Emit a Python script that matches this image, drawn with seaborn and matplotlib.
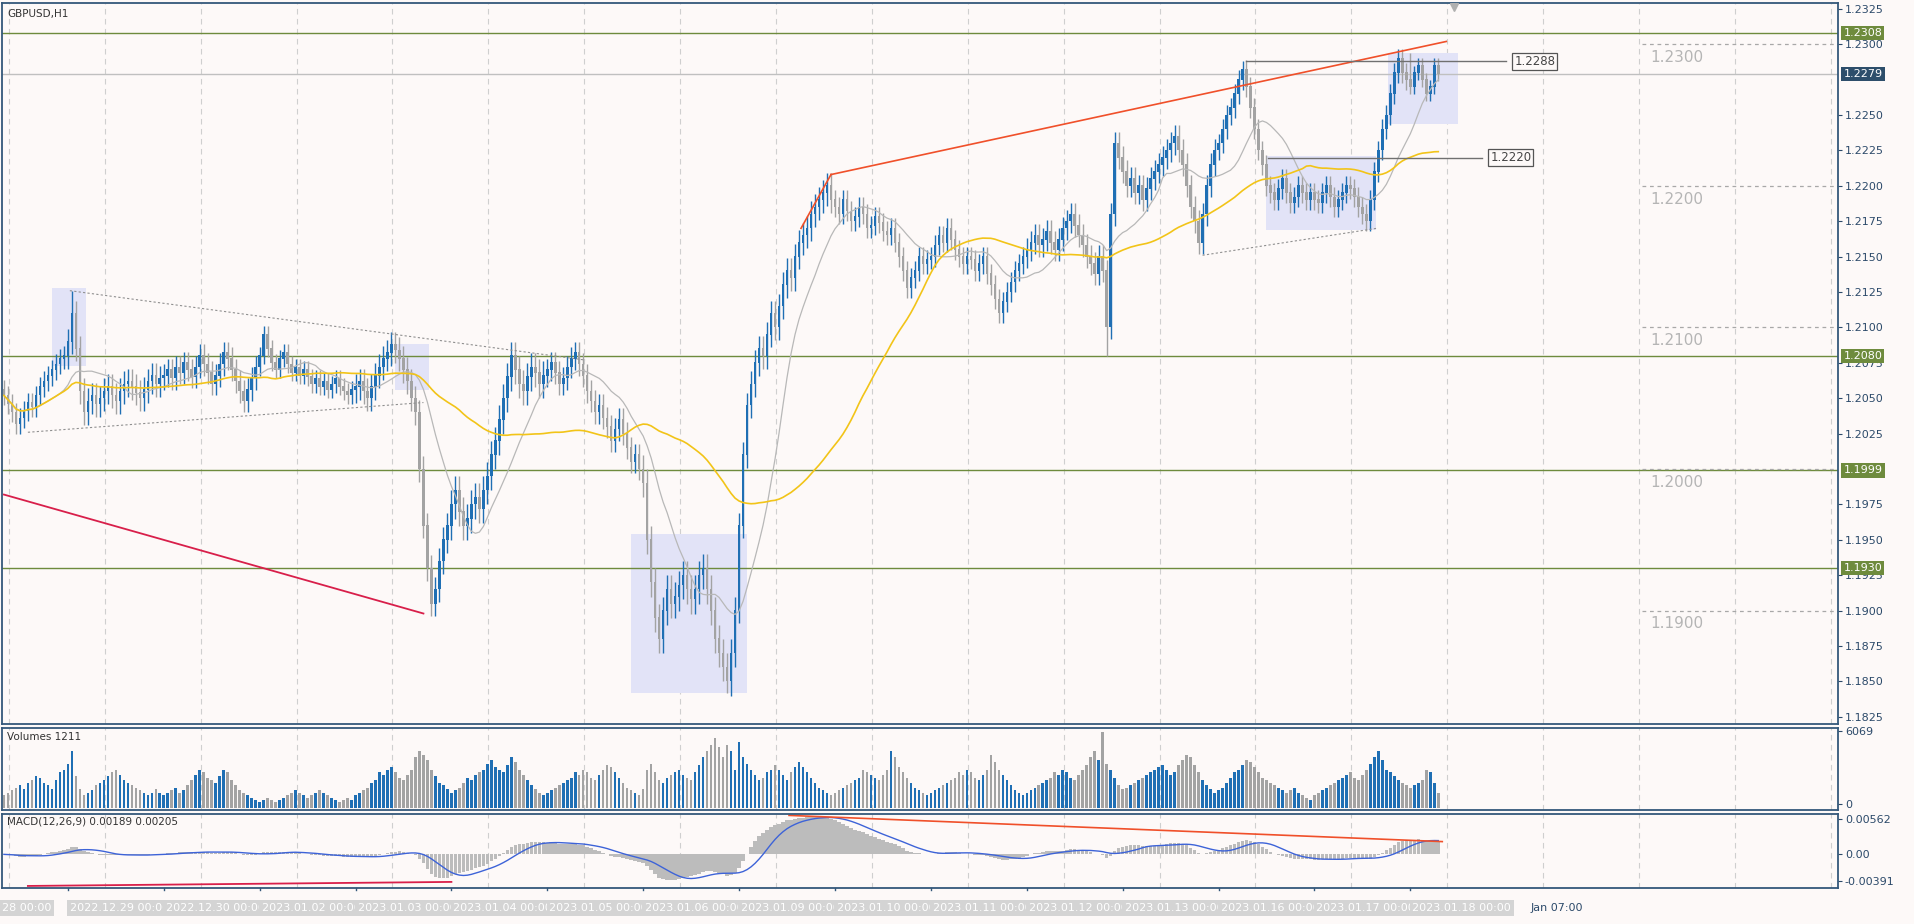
import numpy as np
import pandas as pd
import matplotlib
matplotlib.use("Agg")
import matplotlib.pyplot as plt
from matplotlib.patches import Rectangle
import seaborn as sns

# ---------------- DATA ----------------
# hourly closes (x 1e-4), one list per trading day
CLOSES = {
 "2022.12.28": [12052,12046,12040,12032,12036,12041,12047,12044,12052,12058,12062,12066,12070,12074,12078,12080],
 "2022.12.29": [12090,12110,12085,12055,12040,12048,12052,12046,12050,12055,12058,12052,12048,12055,12060,12062,12058,12054,12050,12056,12062,12066,12060,12064],
 "2022.12.30": [12066,12070,12064,12072,12068,12075,12070,12065,12072,12080,12074,12068,12060,12066,12074,12082,12078,12070,12062,12055,12048,12056,12064,12072],
 "2023.01.02": [12080,12095,12085,12075,12070,12078,12082,12074,12068,12072,12066,12070,12065,12060,12064,12058,12062,12056,12060,12064,12058,12055,12052,12056],
 "2023.01.03": [12058,12062,12055,12050,12058,12066,12072,12078,12082,12088,12084,12078,12070,12062,12050,12040,12000,11960,11930,11905,11915,11935,11950,11960],
 "2023.01.04": [11975,11985,11970,11960,11965,11975,11980,11972,11985,11995,12010,12020,12035,12050,12065,12080,12070,12060,12055,12065,12072,12068,12060,12066],
 "2023.01.05": [12070,12075,12068,12060,12064,12072,12078,12082,12074,12066,12055,12048,12040,12045,12036,12030,12020,12028,12035,12025,12015,12005,12010,12000],
 "2023.01.06": [11990,11950,11920,11895,11880,11900,11915,11905,11910,11918,11925,11915,11908,11915,11925,11930,11915,11900,11880,11870,11860,11850,11870,11900],
 "2023.01.09": [11960,12010,12045,12060,12075,12085,12080,12095,12110,12100,12115,12130,12140,12135,12150,12160,12165,12170,12180,12185,12190,12195,12200,12190],
 "2023.01.10": [12185,12180,12190,12182,12175,12178,12185,12180,12170,12172,12178,12174,12168,12165,12170,12160,12150,12140,12128,12135,12140,12150,12145,12148],
 "2023.01.11": [12150,12158,12165,12160,12170,12162,12155,12150,12145,12150,12148,12140,12145,12150,12138,12130,12120,12110,12118,12125,12132,12140,12145,12150],
 "2023.01.12": [12155,12160,12165,12158,12162,12168,12160,12155,12162,12170,12175,12180,12172,12165,12158,12150,12145,12138,12150,12140,12100,12180,12230,12220],
 "2023.01.13": [12210,12200,12205,12195,12200,12190,12198,12205,12210,12215,12220,12225,12230,12235,12225,12215,12200,12185,12175,12160,12180,12200,12215,12225],
 "2023.01.16": [12230,12240,12250,12255,12265,12275,12282,12270,12255,12240,12225,12215,12200,12195,12190,12198,12205,12195,12188,12192,12200,12195,12190,12195],
 "2023.01.17": [12190,12188,12195,12200,12192,12185,12190,12195,12200,12198,12192,12185,12180,12175,12190,12210,12225,12240,12250,12265,12280,12290,12280,12275],
 "2023.01.18": [12270,12280,12285,12275,12265,12270,12285,12279],
}
# typical wick length per day (x 1e-4)
WICKS = [7, 9, 8, 6, 9, 10, 8, 10, 9, 7, 7, 8, 8, 7, 7, 5]
# notable extreme wicks: bar index -> price
HIGH_OVERRIDES = {17: 1.2126, 352: 1.2294, 310: 1.2288}
LOW_OVERRIDES = {276: 1.2080, 181: 1.1842}

# hourly tick volume (x 100)
VOLUMES = {
 "2022.12.28": [10,12,14,16,18,15,20,22,25,24,20,18,15,22,28,30],
 "2022.12.29": [35,45,25,15,10,12,14,18,20,22,25,28,30,26,22,20,18,16,14,12,10,12,15,12],
 "2022.12.30": [10,12,14,16,12,14,18,22,26,30,28,24,22,20,25,30,28,22,18,14,12,10,8,6],
 "2023.01.02": [5,6,8,6,5,6,8,10,12,14,12,10,8,10,12,14,12,10,8,6,5,6,8,6],
 "2023.01.03": [10,12,14,16,20,22,28,26,30,32,28,24,22,26,30,40,45,42,38,30,25,20,18,15],
 "2023.01.04": [12,14,16,20,24,22,26,28,30,35,38,32,30,28,34,40,36,30,26,22,18,15,12,10],
 "2023.01.05": [12,14,16,18,20,22,24,28,26,30,28,24,22,26,30,34,32,28,24,20,16,14,12,10],
 "2023.01.06": [15,30,35,28,22,20,24,26,28,30,26,24,22,28,34,40,45,50,55,48,40,50,45,30],
 "2023.01.09": [52,40,35,30,26,22,24,28,30,34,30,26,22,28,32,36,32,28,24,20,16,14,12,10],
 "2023.01.10": [12,14,16,18,20,22,24,30,28,26,24,22,26,30,45,40,32,28,24,20,16,14,12,10],
 "2023.01.11": [12,14,16,18,20,22,24,28,26,30,28,24,22,26,30,42,36,30,26,22,18,14,12,10],
 "2023.01.12": [12,14,16,18,20,22,24,28,26,30,28,24,22,26,30,34,40,45,38,60,35,30,24,18],
 "2023.01.13": [15,16,18,20,22,24,26,28,30,32,34,30,26,28,34,38,42,40,34,28,22,18,15,12],
 "2023.01.16": [14,16,20,24,28,30,34,38,36,32,28,24,22,20,18,16,14,12,14,16,12,10,8,6],
 "2023.01.17": [10,12,14,16,18,20,22,24,26,28,24,22,26,30,35,40,45,38,30,28,25,22,20,18],
 "2023.01.18": [16,18,20,22,30,28,20,12.11],
}

PRICE_TICKS = [1.2325, 1.2300, 1.2250, 1.2225, 1.2200, 1.2175, 1.2150, 1.2125, 1.2100,
               1.2075, 1.2050, 1.2025, 1.1975, 1.1950, 1.1925, 1.1900, 1.1875, 1.1850, 1.1825]
GREEN_LEVELS = [1.2308, 1.2080, 1.1999, 1.1930]
LAST_PRICE = 1.2279
ROUND_LEVELS = [1.2300, 1.2200, 1.2100, 1.2000, 1.1900]
DAY_LABELS = ["2022.12.29 00:00", "2022.12.30 00:00", "2023.01.02 00:00", "2023.01.03 00:00",
              "2023.01.04 00:00", "2023.01.05 00:00", "2023.01.06 00:00", "2023.01.09 00:00",
              "2023.01.10 00:00", "2023.01.11 00:00", "2023.01.12 00:00", "2023.01.13 00:00",
              "2023.01.16 00:00", "2023.01.17 00:00", "2023.01.18 00:00"]
# boxes: (bar0, bar1, price_low, price_high)
BOXES = [(12, 20.5, 1.2073, 1.2128), (98, 106.5, 1.2056, 1.2088),
         (157, 186, 1.1842, 1.1954), (316, 343.5, 1.2169, 1.2221), (346.5, 364, 1.2244, 1.2294)]
# trend lines: (bar0, price0, bar1, price1)
RED_LINES = [(199.5, 1.2170, 207, 1.2208), (207, 1.2208, 361, 1.2302)]
CRIMSON_LINE = (0, 1.1982, 105, 1.1898)
DOTTED_LINES = [(16.5, 1.2126, 145.5, 1.2077), (6, 1.2026, 105, 1.2047), (300, 1.2151, 343.5, 1.2170)]
H_LEVELS = [(311, 378, 1.2288), (316.5, 372, 1.2220)]
MACD_RED = (196.5, 0.0058, 360, 0.0019)
MACD_CRIMSON = (6, -0.0047, 112, -0.0041)

# ---------------- BUILD ----------------
days = list(CLOSES.keys())
close = np.concatenate([np.array(CLOSES[d]) for d in days]) / 10000.0
vol = np.concatenate([np.array(VOLUMES[d]) for d in days]) * 100.0
wick = np.concatenate([[WICKS[i]] * len(CLOSES[d]) for i, d in enumerate(days)]) / 10000.0
n = len(close)
idx = np.arange(n)
open_ = np.r_[close[0] + 0.0004, close[:-1]]
high = np.maximum(open_, close) + wick
low = np.minimum(open_, close) - wick
for k, v in HIGH_OVERRIDES.items():
    high[k] = v
for k, v in LOW_OVERRIDES.items():
    low[k] = v
up = close >= open_
day_start = np.cumsum([0] + [len(CLOSES[d]) for d in days])[1:-1]

s = pd.Series(close)
ma_fast = s.rolling(14, min_periods=1).mean()
ma_slow = s.rolling(50, min_periods=1).mean()
macd = s.ewm(span=12, adjust=False).mean() - s.ewm(span=26, adjust=False).mean()
signal = macd.rolling(9, min_periods=1).mean()
df = pd.DataFrame({"bar": idx, "fast": ma_fast, "slow": ma_slow, "macd": macd, "signal": signal})

BG = "#fdf9f8"
UPC = "#1f6fb4"
DNC = "#a3a3a3"
SPINE = "#34587a"
TXT = "#2c4a6a"
GREEN = "#6e8b3d"

fig = plt.figure(figsize=(19.15, 9.24), dpi=100, facecolor=BG)
L, W = 0.001, 0.9587
ax = fig.add_axes([L, 0.2165, W, 0.780])
axv = fig.add_axes([L, 0.1234, W, 0.0887], sharex=ax)
axm = fig.add_axes([L, 0.039, W, 0.080], sharex=ax)
XMAX = 459
for a in (ax, axv, axm):
    a.set_facecolor(BG)
    for sp in a.spines.values():
        sp.set_color(SPINE); sp.set_linewidth(1.3)
    a.yaxis.tick_right()
    a.tick_params(axis="y", labelsize=8, colors=TXT, length=3, pad=2)
    a.tick_params(axis="x", length=0, labelbottom=False)
    for g in np.arange(1.25, XMAX, 24):
        a.axvline(g, color="#cfcfcf", lw=0.8, ls=(0, (5, 4)), zorder=0)
ax.set_xlim(-0.5, XMAX)

# ---- main panel
ax.set_ylim(1.1820, 1.2329)
for b in BOXES:
    ax.add_patch(Rectangle((b[0], b[2]), b[1] - b[0], b[3] - b[2], color="#e2e3f7", zorder=1, lw=0))
for lv in GREEN_LEVELS:
    ax.axhline(lv, color=GREEN, lw=1.0, zorder=2)
ax.axhline(LAST_PRICE, color="#c0c0c0", lw=1.0, zorder=2)
for lv in ROUND_LEVELS:
    ax.plot([410, XMAX], [lv, lv], color="#a8a8a8", lw=0.9, ls=(0, (3, 3)), zorder=2)
    ax.text(412, lv - 0.0004, f"{lv:.4f}", color="#b5b5b5", fontsize=11, va="top", ha="left")
colors = np.where(up, UPC, DNC)
ax.vlines(idx, low, high, colors=colors, lw=1.0, zorder=3)
ax.bar(idx, np.abs(close - open_) + 0.00004, bottom=np.minimum(open_, close), width=0.62,
       color=colors, zorder=4, lw=0)
sns.lineplot(data=df, x="bar", y="fast", ax=ax, color="#b8b8b8", lw=0.9, zorder=5)
sns.lineplot(data=df, x="bar", y="slow", ax=ax, color="#f2c418", lw=1.2, zorder=5)
for x0, y0, x1, y1 in RED_LINES:
    ax.plot([x0, x1], [y0, y1], color="#f0502a", lw=1.2, zorder=6)
ax.plot([CRIMSON_LINE[0], CRIMSON_LINE[2]], [CRIMSON_LINE[1], CRIMSON_LINE[3]], color="#d81f4a", lw=1.3, zorder=6)
for x0, y0, x1, y1 in DOTTED_LINES:
    ax.plot([x0, x1], [y0, y1], color="#909090", lw=0.8, ls=(0, (2, 2)), zorder=6)
for x0, x1, lv in H_LEVELS:
    ax.plot([x0, x1 - 2], [lv, lv], color="#707070", lw=1.0, zorder=6)
    ax.text(x1, lv, f"{lv:.4f}", fontsize=8.5, color="#444", va="center", ha="left",
            bbox=dict(boxstyle="square,pad=0.15", fc=BG, ec="#555", lw=0.9))
ax.plot([363], [1.23265], marker="v", color="#b0b0b0", ms=6, zorder=7)
ax.set_yticks(PRICE_TICKS)
ax.set_yticklabels([f"{t:.4f}" for t in PRICE_TICKS])
ax.set_ylabel(""); ax.set_xlabel("")
for lv in GREEN_LEVELS:
    ax.text(1.003, lv, f"{lv:.4f}", transform=ax.get_yaxis_transform(), fontsize=8, color="white",
            va="center", ha="left", bbox=dict(boxstyle="square,pad=0.2", fc=GREEN, ec="none"), zorder=10, clip_on=False)
ax.text(1.003, LAST_PRICE, f"{LAST_PRICE:.4f}", transform=ax.get_yaxis_transform(), fontsize=8, color="white",
        va="center", ha="left", bbox=dict(boxstyle="square,pad=0.2", fc="#2d4e6b", ec="none"), zorder=10, clip_on=False)
ax.text(0.003, 0.992, "GBPUSD,H1", transform=ax.transAxes, fontsize=7.5, color="#333", va="top")

# ---- volume panel
axv.set_ylim(-150, 6300)
axv.bar(idx, vol, width=0.62, color=colors, lw=0)
axv.set_yticks([300, 6069]); axv.set_yticklabels(["0", "6069"])
axv.text(0.003, 0.95, f"Volumes {int(round(vol[-1]))}", transform=axv.transAxes, fontsize=7.5, color="#333", va="top")

# ---- MACD panel
axm.set_ylim(-0.0050, 0.0060)
axm.bar(idx, df["macd"], width=0.9, color="#bcbcbc", lw=0)
sns.lineplot(data=df, x="bar", y="signal", ax=axm, color="#3d63d8", lw=1.0)
axm.plot([MACD_RED[0], MACD_RED[2]], [MACD_RED[1], MACD_RED[3]], color="#f0502a", lw=1.2)
axm.plot([MACD_CRIMSON[0], MACD_CRIMSON[2]], [MACD_CRIMSON[1], MACD_CRIMSON[3]], color="#d81f4a", lw=1.3)
axm.set_yticks([0.0053, 0.0, -0.00391]); axm.set_yticklabels(["0.00562", "0.00", "-0.00391"])
axm.set_ylabel(""); axm.set_xlabel("")
axm.text(0.003, 0.97, f"MACD(12,26,9) {df['macd'].iloc[-1]:.5f} {df['signal'].iloc[-1]:.5f}",
         transform=axm.transAxes, fontsize=7.5, color="#333", va="top")
axm.set_xlim(-0.5, XMAX)

# ---- time axis labels
lbl_box = dict(boxstyle="square,pad=0.25", fc="#d4d4d4", ec="none")
axm.text(-0.5, -0.2, "28 00:00", transform=axm.get_xaxis_transform(), fontsize=8, color="white",
         va="top", ha="left", bbox=lbl_box, clip_on=False)
for b, lab in zip(day_start, DAY_LABELS):
    axm.plot([b, b], [-0.0050, -0.0053], color=SPINE, lw=1, clip_on=False)
    axm.text(b + 0.5, -0.2, lab, transform=axm.get_xaxis_transform(), fontsize=8, color="white",
             va="top", ha="left", bbox=lbl_box, clip_on=False)
axm.text(day_start[-1] + 30, -0.2, "Jan 07:00", transform=axm.get_xaxis_transform(), fontsize=8,
         color=TXT, va="top", ha="left", clip_on=False)
for a in (ax, axv):
    a.set_xlabel("")

fig.savefig("out.png", dpi=100, facecolor=BG)
